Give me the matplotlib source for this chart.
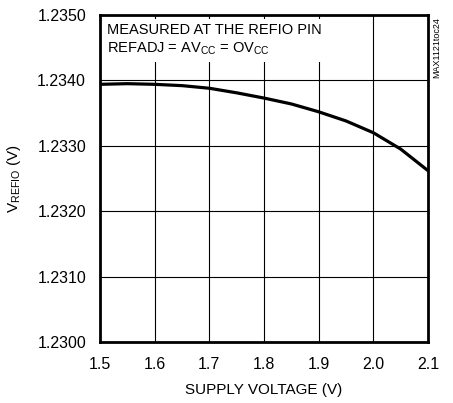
import matplotlib
matplotlib.use('Agg')
import matplotlib.pyplot as plt
import numpy as np

plt.rcParams['font.family'] = ['Liberation Sans Narrow', 'Liberation Sans', 'DejaVu Sans']

# supply voltage (V) and measured V_REFIO (V)
supply_v = [1.50, 1.55, 1.60, 1.65, 1.70, 1.75, 1.80, 1.85, 1.90, 1.95, 2.00, 2.05, 2.10]
v_refio = [1.23394, 1.23395, 1.23394, 1.23392, 1.23388, 1.23381, 1.23373, 1.23364,
           1.23352, 1.23338, 1.23320, 1.23295, 1.23262]

x_ticks = [1.5, 1.6, 1.7, 1.8, 1.9, 2.0, 2.1]
y_ticks = [1.2300, 1.2310, 1.2320, 1.2330, 1.2340, 1.2350]

fig = plt.figure(figsize=(4.53, 4.03), dpi=100)
ax = fig.add_axes([100/453, 1 - 342/403, 328/453, 327/403])

ax.plot(supply_v, v_refio, color='black', lw=2.3, zorder=3, solid_capstyle='butt')

ax.set_xlim(1.5, 2.1)
ax.set_ylim(1.2300, 1.2350)
ax.set_xticks(x_ticks)
ax.set_xticklabels(['%.1f' % t for t in x_ticks])
ax.set_yticks(y_ticks)
ax.set_yticklabels(['%.4f' % t for t in y_ticks])
ax.tick_params(axis='x', length=0, labelsize=11.5, pad=11)
ax.tick_params(axis='y', length=0, labelsize=11.5, pad=10)
ax.grid(True, color='black', lw=0.8)
for s in ax.spines.values():
    s.set_linewidth(2)

ax.set_xlabel('SUPPLY VOLTAGE (V)', fontsize=11, labelpad=8)
ax.set_ylabel('V$_{\\mathregular{REFIO}}$ (V)', fontsize=11, labelpad=10)

ax.text(0.022, 0.975, 'MEASURED AT THE REFIO PIN\nREFADJ = AV$_{\\mathregular{CC}}$ = OV$_{\\mathregular{CC}}$',
        transform=ax.transAxes, ha='left', va='top', fontsize=10.5, linespacing=1.25,
        bbox=dict(facecolor='white', edgecolor='none', pad=4), zorder=4)

fig.text(437/453, 1 - 48/403, 'MAX1121toc24', rotation=90, ha='center', va='center', fontsize=6.5)

fig.savefig('out.png', dpi=100)
